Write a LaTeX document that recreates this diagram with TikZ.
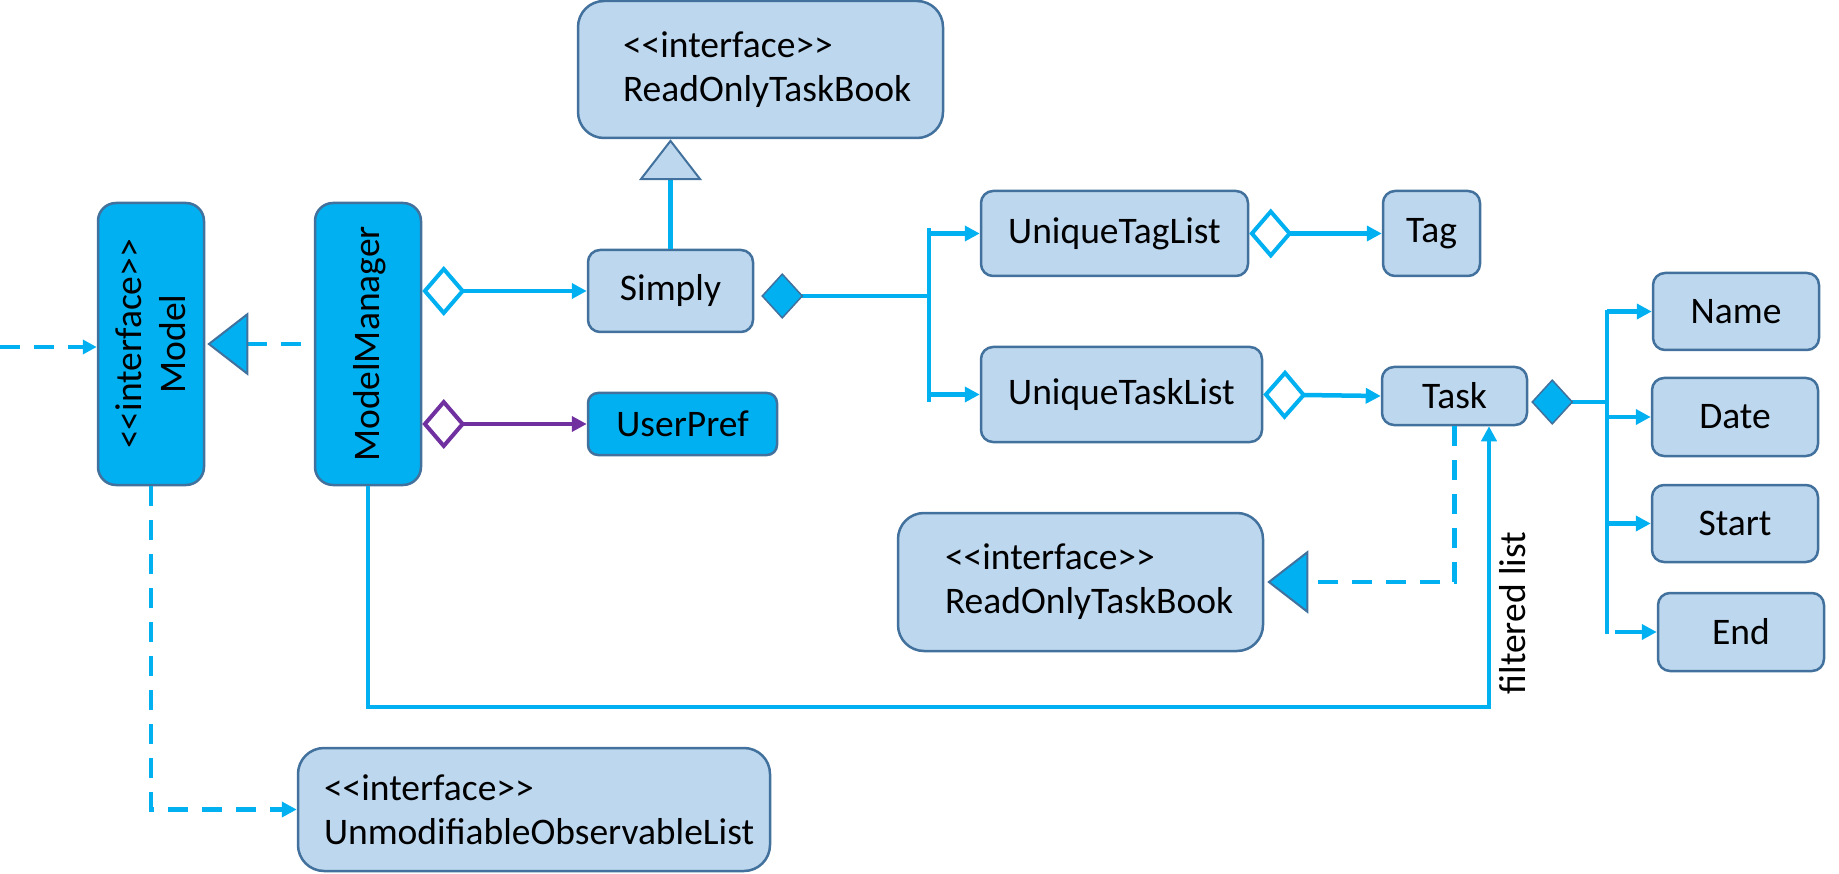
\documentclass[tikz,border=0pt]{standalone}
\usepackage{fontspec}
\setmainfont{Carlito}
\usetikzlibrary{arrows.meta}
\definecolor{cy}{HTML}{00B0F0}
\definecolor{lb}{HTML}{BDD7EE}
\definecolor{bd}{HTML}{41719C}
\definecolor{pu}{HTML}{7030A0}
\newcommand\stereo[1]{<\kern0pt<#1>\kern0pt>}
\begin{document}
\begin{tikzpicture}[x=1pt,y=-1pt,
  font=\fontsize{37.5}{44}\selectfont,
  box/.style={draw=bd, fill=lb, line width=2.5pt, rounded corners=12pt, inner sep=0pt, text=black},
  bigbox/.style={box, rounded corners=26pt, align=left},
  cybox/.style={box, fill=cy, rounded corners=18pt},
  conn/.style={draw=cy, line width=4.5pt},
  dsh/.style={conn, dash pattern=on 20pt off 14pt},
  tip/.style={arrows={-Triangle[length=15pt,width=15pt]}},
  agg/.style={arrows={Diamond[open,length=43pt,width=50pt,line width=4pt]-Triangle[length=15pt,width=15pt]}},
  comp/.style={arrows={Diamond[length=42pt,width=46pt,fill=cy,color=bd,line width=1.5pt]-}},
  real/.style={arrows={-Triangle[length=41pt,width=63pt,fill=cy,color=bd,line width=2pt]}},
  gen/.style={arrows={-Triangle[length=41pt,width=63pt,fill=lb,color=bd,line width=2pt]}}
]
\useasboundingbox (0,0) rectangle (1839,874);

% nodes
\node[cybox, minimum width=106pt, minimum height=282pt] (model) at (151,344) {};
\node[rotate=90, align=center] (modelt) at (model.center) {\stereo{interface}\\Model};
\node[cybox, minimum width=106pt, minimum height=282pt] (mm) at (368,344) {};
\node[rotate=90] (mmt) at ([xshift=2pt]mm.center) {ModelManager};

\node[bigbox, text width=275pt, inner xsep=45pt, minimum height=137pt] (rotb) at (760.5,69.5) {\stereo{interface}\\ReadOnlyTaskBook};
\node[box, minimum width=165pt, minimum height=82pt] (simply) at (670.5,291) {Simply};
\node[cybox, rounded corners=10pt, minimum width=189pt, minimum height=62pt] (userpref) at (682.5,424) {UserPref};

\node[box, minimum width=267pt, minimum height=85pt] (utl) at (1114.5,233.5) {UniqueTagList};
\node[box, minimum width=97pt, minimum height=85pt] (tag) at (1431.5,233.5) {Tag};
\node[box, minimum width=281pt, minimum height=95pt] (utkl) at (1121.5,394.5) {UniqueTaskList};
\node[box, minimum width=145pt, minimum height=58pt] (task) at (1454.5,396) {Task};

\node[box, minimum width=166pt, minimum height=77pt] (name) at (1736,311.5) {Name};
\node[box, minimum width=166pt, minimum height=78pt] (date) at (1735,417) {Date};
\node[box, minimum width=166pt, minimum height=77pt] (start) at (1735,523.5) {Start};
\node[box, minimum width=166pt, minimum height=78pt] (end) at (1741,632) {End};

\node[bigbox, text width=271pt, inner xsep=47pt, minimum height=138pt] (rotb2) at (1080.5,582) {\stereo{interface}\\ReadOnlyTaskBook};
\node[bigbox, text width=420pt, inner xsep=26pt, minimum height=123pt] (uol) at (534,809.5) {\stereo{interface}\\UnmodifiableObservableList};

% connectors
\coordinate (lin) at (0,347);
\draw[dsh, arrows={-Triangle[length=14pt,width=14pt]}] (lin) -- (lin -| model.west);
\draw[dsh, real] ([xshift=-13pt]mm.west) -- ([xshift=2pt]model.east);

\draw[conn, agg] (mm.east |- simply.west) -- (simply.west);
\draw[conn, line width=4pt, draw=pu, agg] (mm.east |- userpref.west) -- (userpref.west);

\draw[conn, gen] (simply.north) -- (simply.north |- rotb.south);

\coordinate (b1) at (929,296);
\coordinate (btop) at (929,228);
\coordinate (bbot) at (929,402);
\draw[conn, comp, shorten <=7pt] (simply.east |- b1) -- (b1);
\draw[conn] (btop) -- (bbot);
\draw[conn, tip] (btop |- utl.west) -- (utl.west);
\draw[conn, tip] (bbot |- utkl.west) -- (utkl.west);

\draw[conn, agg] (utl.east) -- (tag.west);
\draw[conn, agg] (utkl.east) -- (task.west);

\coordinate (t1) at (1607,402);
\coordinate (ttop) at (1607,310);
\coordinate (tbot) at (1607,634);
\draw[conn, comp, shorten <=3pt] (task.east |- t1) -- (t1);
\draw[conn] (ttop) -- (tbot);
\draw[conn, tip] (ttop |- name.west) -- (name.west);
\draw[conn, tip] (ttop |- date.west) -- (date.west);
\draw[conn, tip] (ttop |- start.west) -- (start.west);
\draw[conn, tip] ([xshift=8pt]tbot |- end.west) -- (end.west);

\coordinate (fl) at (1489,707);
\draw[conn, line width=4pt, tip] (mm.south) |- (fl) -- (fl |- task.south);
\node[rotate=90] (fll) at (1513,613) {filtered list};

\draw[dsh, real] (task.south) |- ([xshift=3pt]rotb2.east);
\draw[dsh, tip] (model.south) |- (uol.west);
\end{tikzpicture}
\end{document}
